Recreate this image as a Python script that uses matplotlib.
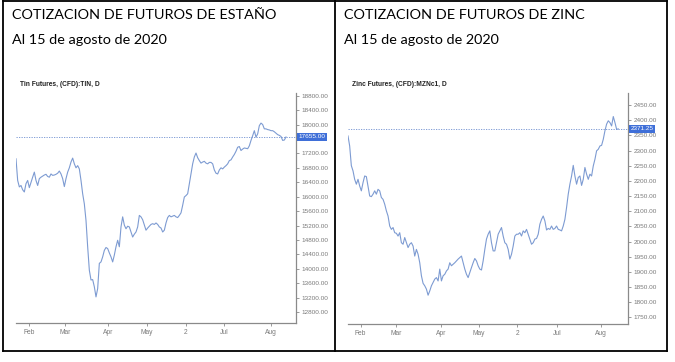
import matplotlib
matplotlib.use("Agg")
import matplotlib.pyplot as plt
from matplotlib.lines import Line2D
import matplotlib.transforms as mtransforms

# ---- data ----
month_labels = ["Feb", "Mar", "Apr", "May", "2", "Jul", "Aug"]

tin_month_pos = [7.8, 29.4, 55.4, 78.4, 101.8, 124.8, 152.8]
tin_close = [
    17050, 16450, 16270, 16310, 16190, 16130, 16360, 16450, 16250, 16400,
    16540, 16680, 16450, 16310, 16500, 16540, 16570, 16600, 16620, 16560,
    16540, 16630, 16590, 16600, 16620, 16650, 16710, 16630, 16500, 16280,
    16500, 16680, 16800, 16960, 17070, 16910, 16800, 16860, 16770, 16450,
    16080, 15800, 15340, 14610, 13960, 13690, 13700, 13500, 13220, 13450,
    14150, 14190, 14330, 14510, 14590, 14560, 14440, 14330, 14190, 14380,
    14610, 14790, 14610, 15160, 15440, 15210, 15110, 15180, 15160, 15020,
    14880, 14960, 15020, 15160, 15480, 15440, 15360, 15210, 15070, 15130,
    15180, 15230, 15250, 15230, 15270, 15230, 15160, 15130, 15020, 15070,
    15270, 15420, 15480, 15440, 15460, 15480, 15440, 15420, 15480, 15550,
    15760, 15990, 16030, 16080, 16360, 16630, 16910, 17100, 17210, 17080,
    17000, 16930, 16960, 16980, 16930, 16910, 16950, 16950, 16910, 16740,
    16650, 16630, 16740, 16800, 16770, 16820, 16860, 16910, 17000, 17020,
    17100, 17170, 17260, 17370, 17390, 17280, 17320, 17350, 17340, 17330,
    17410, 17560, 17690, 17830, 17650, 17740, 17970, 18040, 18000, 17880,
    17880, 17860, 17850, 17830, 17830, 17800, 17760, 17720, 17700, 17670,
    17560, 17570, 17655,
]
tin_last = 17655.00
tin_ticks = list(range(12800, 18801, 400))
tin_hidden = [17600]   # covered by the price badge

zinc_month_pos = [7.6, 29.0, 56.0, 78.4, 101.4, 125.4, 151.4]
zinc_close = [
    2348, 2315, 2250, 2233, 2205, 2189, 2205, 2183, 2167, 2194,
    2216, 2214, 2183, 2150, 2148, 2156, 2167, 2156, 2172, 2167,
    2145, 2139, 2123, 2101, 2084, 2051, 2040, 2046, 2029, 2027,
    2018, 2029, 1996, 1991, 2013, 1996, 1980, 1991, 1996, 1985,
    1952, 1974, 1958, 1930, 1887, 1862, 1854, 1843, 1823, 1837,
    1854, 1865, 1876, 1881, 1870, 1909, 1870, 1887, 1892, 1903,
    1909, 1930, 1920, 1925, 1930, 1936, 1942, 1947, 1952, 1930,
    1909, 1892, 1881, 1898, 1914, 1930, 1944, 1936, 1920, 1909,
    1906, 1936, 1974, 2008, 2024, 2035, 1996, 1969, 1969, 1996,
    2024, 2035, 2046, 2018, 1996, 1991, 1974, 1942, 1958, 1985,
    2018, 2024, 2024, 2029, 2018, 2035, 2029, 2040, 2024, 2008,
    1991, 1996, 2008, 2010, 2024, 2057, 2073, 2084, 2068, 2038,
    2043, 2040, 2051, 2040, 2043, 2051, 2040, 2038, 2035, 2051,
    2073, 2112, 2156, 2189, 2216, 2251, 2216, 2189, 2211, 2216,
    2185, 2205, 2244, 2222, 2205, 2222, 2216, 2249, 2271, 2299,
    2304, 2315, 2317, 2337, 2365, 2387, 2398, 2392, 2381, 2412,
    2392, 2370, 2371.25,
]
zinc_last = 2371.25
zinc_ticks = list(range(1750, 2451, 50))
zinc_hidden = []

LINE_COL = "#7d9bd2"
DASH_COL = "#6f8fd0"
AXIS_COL = "#8a8a8a"
TXT_COL = "#7a7a7a"
BADGE_COL = "#3f6fd8"


def draw_chart(fig, rect, values, last, ticks, hidden, month_pos, ylim, title, tx):
    ax = fig.add_axes(rect)
    x = list(range(len(values)))
    ax.plot(x, values, color=LINE_COL, lw=0.8)
    ax.axhline(last, color=DASH_COL, lw=0.6, ls=(0, (1.5, 1.5)))
    ax.set_xlim(0, 168)
    ax.set_ylim(*ylim)
    for s in ["top", "left"]:
        ax.spines[s].set_visible(False)
    for s in ["right", "bottom"]:
        ax.spines[s].set_color(AXIS_COL)
        ax.spines[s].set_linewidth(0.9)
    ax.yaxis.tick_right()
    ax.set_yticks(ticks)
    ax.set_yticklabels(["" if t in hidden else "%.2f" % t for t in ticks])
    ax.set_xticks(month_pos)
    ax.set_xticklabels(month_labels)
    ax.tick_params(axis="y", length=2, width=0.6, color=AXIS_COL, pad=2,
                   labelsize=4.6, labelcolor=TXT_COL)
    ax.tick_params(axis="x", length=2, width=0.6, color=AXIS_COL, pad=2,
                   labelsize=4.8, labelcolor=TXT_COL)
    for t in ax.get_yticklabels() + ax.get_xticklabels():
        t.set_family("Liberation Sans")
    trans = mtransforms.blended_transform_factory(ax.transAxes, ax.transData)
    ax.text(1.008, last, "%.2f" % last, transform=trans, ha="left", va="center",
            fontsize=4.6, color="white", family="Liberation Sans", zorder=10,
            clip_on=False,
            bbox=dict(boxstyle="square,pad=0.25", fc=BADGE_COL, ec="none"))
    fig.text(tx, 1 - 85 / 362, title, fontsize=4.8, fontweight="bold",
             family="Liberation Sans", color="#222222", va="center")
    return ax


fig = plt.figure(figsize=(6.75, 3.62), dpi=100)

draw_chart(fig, [16 / 675, 1 - 323 / 362, 280 / 675, 230.3 / 362],
           tin_close, tin_last, tin_ticks, tin_hidden, tin_month_pos,
           (12496, 18883), "Tin Futures, (CFD):TIN, D", 20 / 675)
draw_chart(fig, [348 / 675, 1 - 324 / 362, 280.3 / 675, 231.3 / 362],
           zinc_close, zinc_last, zinc_ticks, zinc_hidden, zinc_month_pos,
           (1728, 2490.6), "Zinc Futures, (CFD):MZNc1, D", 352 / 675)

# headings
HEAD_SIZE = 10.4
fig.text(12 / 675, 1 - 15 / 362, "COTIZACION DE FUTUROS DE ESTAÑO",
         fontsize=HEAD_SIZE, family="Lato", va="center", color="black")
fig.text(12 / 675, 1 - 40 / 362, "Al 15 de agosto de 2020",
         fontsize=HEAD_SIZE, family="Lato", va="center", color="black")
fig.text(344 / 675, 1 - 15 / 362, "COTIZACION DE FUTUROS DE ZINC",
         fontsize=HEAD_SIZE, family="Lato", va="center", color="black")
fig.text(344 / 675, 1 - 40 / 362, "Al 15 de agosto de 2020",
         fontsize=HEAD_SIZE, family="Lato", va="center", color="black")


# table borders
def fx(px):
    return px / 675


def fy(py):
    return 1 - py / 362


for (x0, y0, x1, y1) in [(3, 1, 667, 1), (3, 351, 667, 351),
                         (3, 1, 3, 351), (667, 1, 667, 351), (335, 1, 335, 351)]:
    fig.add_artist(Line2D([fx(x0), fx(x1)], [fy(y0), fy(y1)], color="black", lw=1.3))

fig.savefig("out.png", dpi=100)
